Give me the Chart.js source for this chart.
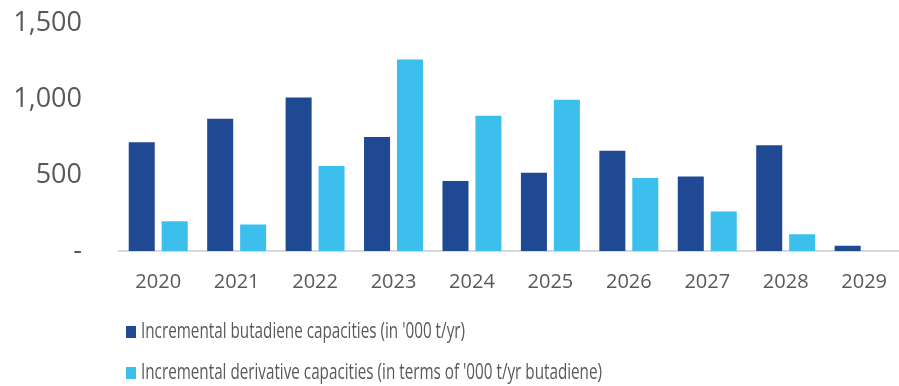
<!DOCTYPE html>
<html lang="en">
<head>
    <meta charset="UTF-8">
    <title>Butadiene capacity additions</title>
    <script src="https://cdn.jsdelivr.net/npm/chart.js"></script>
    <style>
        html, body { margin: 0; padding: 0; background: #fff; overflow: hidden; }
        #wrap { width: 906px; height: 386px; }
    </style>
</head>
<body>
    <div id="wrap"><canvas id="myChart"></canvas></div>

    <script>
        const years = ['2020', '2021', '2022', '2023', '2024', '2025', '2026', '2027', '2028', '2029'];
        const butadiene = [715, 870, 1010, 750, 460, 515, 660, 490, 695, 35];
        const derivative = [195, 175, 560, 1260, 890, 995, 480, 260, 110, 0];
        const seriesNames = [
            "Incremental butadiene capacities (in '000 t/yr)",
            "Incremental derivative capacities (in terms of '000 t/yr butadiene)"
        ];
        const darkBlue = '#204993';
        const lightBlue = '#3dbfed';
        const textGrey = '#595959';

        // legend drawn under the plot, narrow text like the source deck
        const legendRows = {
            id: 'legendRows',
            afterDraw(chart) {
                const ctx = chart.ctx;
                const rows = [
                    { y: 332, color: darkBlue, text: seriesNames[0], w: 324 },
                    { y: 373, color: lightBlue, text: seriesNames[1], w: 461 }
                ];
                ctx.save();
                ctx.font = '21px "Open Sans"';
                ctx.textBaseline = 'middle';
                rows.forEach(r => {
                    ctx.fillStyle = r.color;
                    ctx.fillRect(126, r.y - 6, 10, 12);
                    const m = ctx.measureText(r.text).width;
                    ctx.save();
                    ctx.translate(141, r.y);
                    ctx.scale(r.w / m, 1);
                    ctx.fillStyle = textGrey;
                    ctx.fillText(r.text, 0, 0);
                    ctx.restore();
                });
                ctx.restore();
            }
        };

        const ctx = document.getElementById('myChart').getContext('2d');
        const myChart = new Chart(ctx, {
            type: 'bar',
            data: {
                labels: years,
                datasets: [{
                    label: seriesNames[0],
                    data: butadiene,
                    backgroundColor: darkBlue,
                    categoryPercentage: 0.84,
                    barPercentage: 0.79
                }, {
                    label: seriesNames[1],
                    data: derivative,
                    backgroundColor: lightBlue,
                    categoryPercentage: 0.84,
                    barPercentage: 0.79
                }]
            },
            options: {
                responsive: true,
                maintainAspectRatio: false,
                animation: false,
                layout: { padding: { top: 23, right: 0, left: 0, bottom: 0 } },
                plugins: {
                    legend: { display: false },
                    tooltip: { enabled: false }
                },
                scales: {
                    x: {
                        grid: { display: false, drawTicks: false },
                        border: { display: true, color: '#d9d9d9', width: 2 },
                        ticks: {
                            color: textGrey,
                            font: { family: 'Open Sans', size: 20 },
                            padding: 19,
                            maxRotation: 0
                        },
                        afterFit(scale) { scale.height = 135; }
                    },
                    y: {
                        min: 0,
                        max: 1500,
                        grid: { display: false, drawTicks: false },
                        border: { display: false },
                        ticks: {
                            stepSize: 500,
                            color: textGrey,
                            font: { family: 'Open Sans', size: 27 },
                            padding: 37,
                            callback: v => v === 0 ? '-' : v.toLocaleString('en-US')
                        },
                        afterFit(scale) {
                            scale.width = 119;
                            scale.paddingTop = 0;
                            scale.paddingBottom = 0;
                        }
                    }
                }
            },
            plugins: [legendRows]
        });
    </script>
</body>
</html>
